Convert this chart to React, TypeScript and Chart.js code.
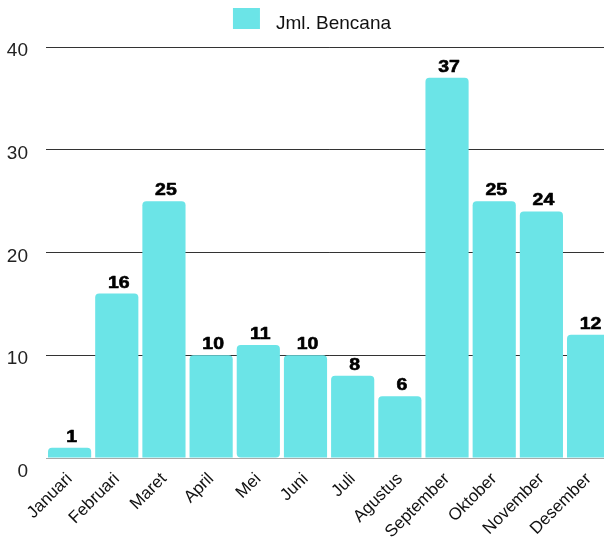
import React, { useEffect, useRef } from "react";
import { Chart, registerables } from "chart.js";

Chart.register(...registerables);

const categories = [
  "Januari",
  "Februari",
  "Maret",
  "April",
  "Mei",
  "Juni",
  "Juli",
  "Agustus",
  "September",
  "Oktober",
  "November",
  "Desember",
];
const values = [1, 16, 25, 10, 11, 10, 8, 6, 37, 25, 24, 12];
const seriesLabel = "Jml. Bencana";
const yTicks = [0, 10, 20, 30, 40];

const BAR_COLOR = "#6be4e7";
const FONT = "'Liberation Sans', Arial, Helvetica, sans-serif";
const CANVAS_W = 614;

export default function App() {
  const ref = useRef<HTMLCanvasElement | null>(null);

  useEffect(() => {
    document.body.style.margin = "0";
    document.body.style.overflow = "hidden";
    const canvas = ref.current;
    if (!canvas) return;

    const valueLabels = {
      id: "valueLabels",
      afterDatasetsDraw(chart: any) {
        const ctx = chart.ctx;
        const meta = chart.getDatasetMeta(0);
        ctx.save();
        ctx.font = `bold 16.5px ${FONT}`;
        ctx.fillStyle = "#000";
        ctx.strokeStyle = "#000";
        ctx.lineWidth = 0.6;
        ctx.lineJoin = "round";
        ctx.textAlign = "center";
        ctx.textBaseline = "alphabetic";
        meta.data.forEach((bar: any, i: number) => {
          const { x, y } = bar.getProps(["x", "y"], true);
          const txt = String(chart.data.datasets[0].data[i]);
          ctx.save();
          ctx.translate(x + 2, y - 6);
          ctx.scale(1.18, 1);
          ctx.fillText(txt, 0, 0);
          ctx.strokeText(txt, 0, 0);
          ctx.restore();
        });
        ctx.restore();
      },
    };

    const customLegend = {
      id: "customLegend",
      afterDraw(chart: any) {
        const ctx = chart.ctx;
        const label = chart.data.datasets[0].label;
        ctx.save();
        ctx.font = `19px ${FONT}`;
        const tw = ctx.measureText(label).width;
        const boxW = 27;
        const gap = 16;
        const total = boxW + gap + tw;
        const startX = 302 + 10 - total / 2;
        ctx.fillStyle = BAR_COLOR;
        ctx.fillRect(startX, 8, boxW, 21);
        ctx.fillStyle = "#111";
        ctx.textAlign = "left";
        ctx.textBaseline = "alphabetic";
        ctx.fillText(label, startX + boxW + gap, 28.5);
        ctx.restore();
      },
    };

    const chart = new Chart(canvas, {
      type: "bar",
      data: {
        labels: categories,
        datasets: [
          {
            label: seriesLabel,
            data: values,
            backgroundColor: BAR_COLOR,
            borderWidth: 0,
            borderRadius: 4,
            borderSkipped: (c: any) => (c.dataIndex === 4 ? false : "start"),
            barPercentage: 0.915,
            categoryPercentage: 1,
          },
        ],
      },
      options: {
        responsive: false,
        animation: false,
        layout: { padding: { top: 47, left: 0, right: 0, bottom: 0 } },
        plugins: {
          legend: { display: false },
          tooltip: { enabled: false },
        },
        scales: {
          x: {
            grid: { display: false, drawTicks: false },
            border: { display: false },
            ticks: {
              autoSkip: false,
              maxRotation: 45,
              minRotation: 45,
              padding: 11,
              color: "#111",
              font: { family: FONT, size: 17 },
            },
            afterFit(scale: any) {
              scale.height = 88;
            },
          },
          y: {
            min: 0,
            max: 40,
            border: { display: false },
            grid: {
              drawTicks: false,
              color: (c: any) => (c.tick && c.tick.value === 0 ? "#aaaaaa" : "#333333"),
              lineWidth: 1,
            },
            afterBuildTicks(scale: any) {
              scale.ticks = yTicks.map((v) => ({ value: v }));
            },
            ticks: {
              padding: 18,
              labelOffset: 4,
              color: "#222",
              font: { family: FONT, size: 19, lineHeight: 1 },
              callback: (v: any) => (Number(v) === 0 ? ["", String(v)] : String(v)),
            },
            afterFit(scale: any) {
              scale.width = 46;
            },
          },
        },
      },
      plugins: [valueLabels, customLegend],
    });

    return () => chart.destroy();
  }, []);

  return (
    <div style={{ width: 604, height: 546, overflow: "hidden" }}>
      <canvas ref={ref} width={CANVAS_W} height={546} style={{ display: "block" }} />
    </div>
  );
}
